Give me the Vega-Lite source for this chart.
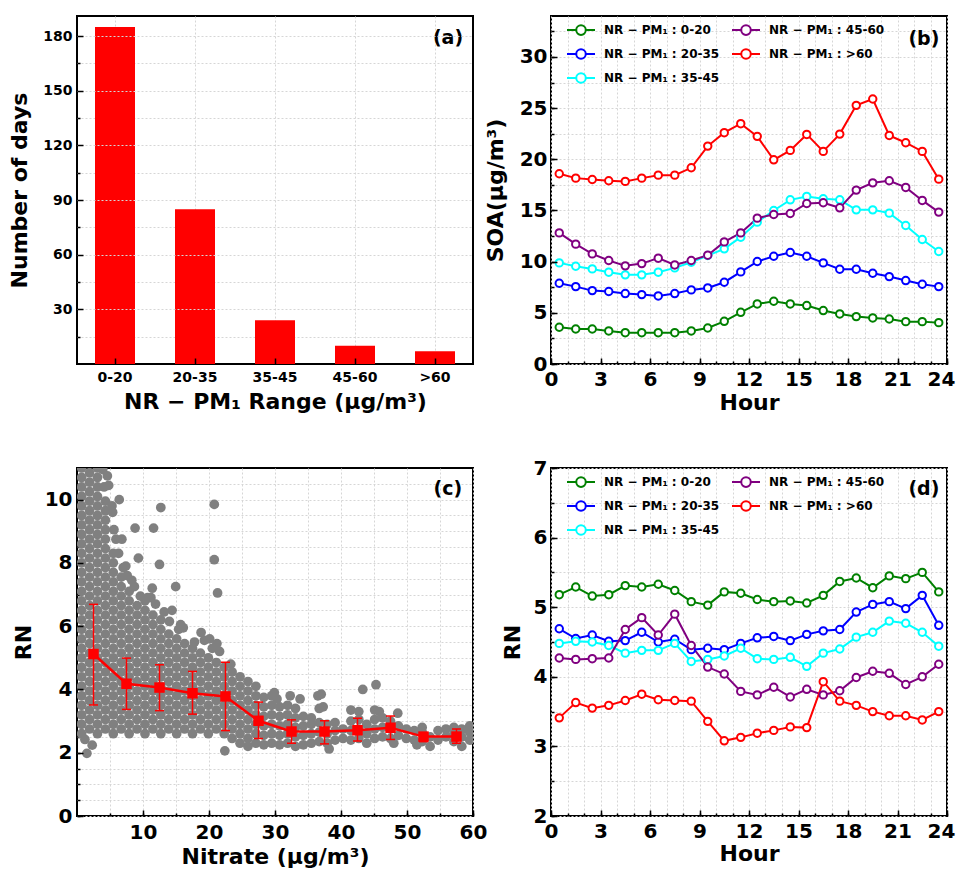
{
  "$schema": "https://vega.github.io/schema/vega-lite/v6.json",
  "padding": {"left": 7, "top": 14, "right": 5, "bottom": 0},
  "columns": 2,
  "spacing": {"row": 104, "column": 78},
  "bounds": "flush",
  "resolve": {"scale": {"color": "independent"}, "legend": {"color": "independent"}},
  "config": {
    "font": "DejaVu Sans",
    "view": {"stroke": "black", "strokeWidth": 2},
    "axis": {"domain": false, "labelFont": "DejaVu Sans", "labelFontWeight": "bold", "labelFontSize": 20, "labelColor": "black", "titleFont": "DejaVu Sans", "titleFontWeight": "bold", "titleFontSize": 22, "titleColor": "black", "tickColor": "black", "tickWidth": 1.5, "gridColor": "#d6d6d6", "gridDash": [2, 2], "gridWidth": 1, "labelFlush": false, "labelOverlap": false, "titlePadding": 8, "labelPadding": 5},
    "legend": {"orient": "none", "legendX": 15, "legendY": -1, "columns": 2, "columnPadding": 8, "rowPadding": -2.5, "labelFont": "DejaVu Sans", "labelFontSize": 12, "labelFontWeight": "bold", "labelColor": "black", "symbolType": "M-1,0L-0.34,0M0.34,0L1,0M-0.34,0A0.34,0.34,0,1,0,0.34,0A0.34,0.34,0,1,0,-0.34,0Z", "symbolSize": 784, "symbolStrokeWidth": 2, "symbolFillColor": "white", "labelOffset": 8}
  },
  "datasets": {
    "soa": [
      {"h": 0.5, "0-20": 3.59, "20-35": 7.89, "35-45": 9.88, "45-60": 12.81, ">60": 18.59},
      {"h": 1.5, "0-20": 3.42, "20-35": 7.56, "35-45": 9.55, "45-60": 11.71, ">60": 18.16},
      {"h": 2.5, "0-20": 3.42, "20-35": 7.17, "35-45": 9.29, "45-60": 10.76, ">60": 18.03},
      {"h": 3.5, "0-20": 3.23, "20-35": 7.08, "35-45": 8.97, "45-60": 10.11, ">60": 17.9},
      {"h": 4.5, "0-20": 3.06, "20-35": 6.88, "35-45": 8.71, "45-60": 9.59, ">60": 17.84},
      {"h": 5.5, "0-20": 3.06, "20-35": 6.78, "35-45": 8.71, "45-60": 9.81, ">60": 18.16},
      {"h": 6.5, "0-20": 3.06, "20-35": 6.65, "35-45": 8.97, "45-60": 10.34, ">60": 18.45},
      {"h": 7.5, "0-20": 3.06, "20-35": 6.88, "35-45": 9.39, "45-60": 9.68, ">60": 18.45},
      {"h": 8.5, "0-20": 3.23, "20-35": 7.24, "35-45": 9.94, "45-60": 10.11, ">60": 19.17},
      {"h": 9.5, "0-20": 3.52, "20-35": 7.43, "35-45": 10.6, "45-60": 10.63, ">60": 21.29},
      {"h": 10.5, "0-20": 4.17, "20-35": 7.99, "35-45": 11.25, "45-60": 11.93, ">60": 22.6},
      {"h": 11.5, "0-20": 5.05, "20-35": 9.0, "35-45": 12.39, "45-60": 12.81, ">60": 23.48},
      {"h": 12.5, "0-20": 5.87, "20-35": 10.01, "35-45": 13.86, "45-60": 14.25, ">60": 22.24},
      {"h": 13.5, "0-20": 6.13, "20-35": 10.53, "35-45": 15.0, "45-60": 14.61, ">60": 19.95},
      {"h": 14.5, "0-20": 5.87, "20-35": 10.89, "35-45": 16.04, "45-60": 14.7, ">60": 20.87},
      {"h": 15.5, "0-20": 5.71, "20-35": 10.53, "35-45": 16.37, "45-60": 15.68, ">60": 22.43},
      {"h": 16.5, "0-20": 5.22, "20-35": 9.88, "35-45": 16.14, "45-60": 15.75, ">60": 20.77},
      {"h": 17.5, "0-20": 4.89, "20-35": 9.26, "35-45": 16.04, "45-60": 15.26, ">60": 22.46},
      {"h": 18.5, "0-20": 4.63, "20-35": 9.26, "35-45": 15.06, "45-60": 16.99, ">60": 25.27},
      {"h": 19.5, "0-20": 4.5, "20-35": 8.87, "35-45": 15.06, "45-60": 17.7, ">60": 25.89},
      {"h": 20.5, "0-20": 4.4, "20-35": 8.54, "35-45": 14.74, "45-60": 17.9, ">60": 22.33},
      {"h": 21.5, "0-20": 4.14, "20-35": 8.15, "35-45": 13.53, "45-60": 17.25, ">60": 21.62},
      {"h": 22.5, "0-20": 4.14, "20-35": 7.79, "35-45": 12.16, "45-60": 15.98, ">60": 20.77},
      {"h": 23.5, "0-20": 4.04, "20-35": 7.56, "35-45": 10.99, "45-60": 14.84, ">60": 18.06}
    ],
    "rnd": [
      {"h": 0.5, "0-20": 5.18, "20-35": 4.69, "35-45": 4.48, "45-60": 4.27, ">60": 3.41},
      {"h": 1.5, "0-20": 5.29, "20-35": 4.55, "35-45": 4.51, "45-60": 4.25, ">60": 3.63},
      {"h": 2.5, "0-20": 5.16, "20-35": 4.6, "35-45": 4.5, "45-60": 4.26, ">60": 3.55},
      {"h": 3.5, "0-20": 5.18, "20-35": 4.51, "35-45": 4.45, "45-60": 4.27, ">60": 3.59},
      {"h": 4.5, "0-20": 5.31, "20-35": 4.52, "35-45": 4.34, "45-60": 4.68, ">60": 3.66},
      {"h": 5.5, "0-20": 5.29, "20-35": 4.64, "35-45": 4.38, "45-60": 4.85, ">60": 3.75},
      {"h": 6.5, "0-20": 5.33, "20-35": 4.5, "35-45": 4.38, "45-60": 4.6, ">60": 3.67},
      {"h": 7.5, "0-20": 5.24, "20-35": 4.54, "35-45": 4.48, "45-60": 4.9, ">60": 3.66},
      {"h": 8.5, "0-20": 5.08, "20-35": 4.39, "35-45": 4.22, "45-60": 4.45, ">60": 3.65},
      {"h": 9.5, "0-20": 5.03, "20-35": 4.41, "35-45": 4.25, "45-60": 4.14, ">60": 3.36},
      {"h": 10.5, "0-20": 5.22, "20-35": 4.39, "35-45": 4.3, "45-60": 4.04, ">60": 3.08},
      {"h": 11.5, "0-20": 5.2, "20-35": 4.48, "35-45": 4.41, "45-60": 3.79, ">60": 3.13},
      {"h": 12.5, "0-20": 5.11, "20-35": 4.56, "35-45": 4.26, "45-60": 3.74, ">60": 3.19},
      {"h": 13.5, "0-20": 5.08, "20-35": 4.58, "35-45": 4.25, "45-60": 3.85, ">60": 3.23},
      {"h": 14.5, "0-20": 5.09, "20-35": 4.52, "35-45": 4.28, "45-60": 3.71, ">60": 3.28},
      {"h": 15.5, "0-20": 5.06, "20-35": 4.61, "35-45": 4.15, "45-60": 3.82, ">60": 3.27},
      {"h": 16.5, "0-20": 5.17, "20-35": 4.66, "35-45": 4.34, "45-60": 3.74, ">60": 3.93},
      {"h": 17.5, "0-20": 5.37, "20-35": 4.68, "35-45": 4.4, "45-60": 3.8, ">60": 3.65},
      {"h": 18.5, "0-20": 5.42, "20-35": 4.93, "35-45": 4.57, "45-60": 3.99, ">60": 3.59},
      {"h": 19.5, "0-20": 5.28, "20-35": 5.04, "35-45": 4.64, "45-60": 4.08, ">60": 3.5},
      {"h": 20.5, "0-20": 5.45, "20-35": 5.08, "35-45": 4.8, "45-60": 4.05, ">60": 3.44},
      {"h": 21.5, "0-20": 5.41, "20-35": 4.98, "35-45": 4.77, "45-60": 3.89, ">60": 3.44},
      {"h": 22.5, "0-20": 5.5, "20-35": 5.17, "35-45": 4.64, "45-60": 4.0, ">60": 3.38},
      {"h": 23.5, "0-20": 5.22, "20-35": 4.74, "35-45": 4.44, "45-60": 4.18, ">60": 3.5}
    ],
    "rn": [
      {"n": 2.5, "m": 5.12, "lo": 3.51, "hi": 6.69},
      {"n": 7.5, "m": 4.18, "lo": 3.37, "hi": 4.99},
      {"n": 12.5, "m": 4.06, "lo": 3.33, "hi": 4.78},
      {"n": 17.5, "m": 3.88, "lo": 3.22, "hi": 4.57},
      {"n": 22.5, "m": 3.78, "lo": 2.7, "hi": 4.86},
      {"n": 27.5, "m": 3.01, "lo": 2.45, "hi": 3.6},
      {"n": 32.5, "m": 2.67, "lo": 2.3, "hi": 3.04},
      {"n": 37.5, "m": 2.67, "lo": 2.28, "hi": 3.01},
      {"n": 42.5, "m": 2.71, "lo": 2.37, "hi": 3.09},
      {"n": 47.5, "m": 2.79, "lo": 2.42, "hi": 3.16},
      {"n": 52.5, "m": 2.51, "lo": 2.35, "hi": 2.63},
      {"n": 57.5, "m": 2.51, "lo": 2.3, "hi": 2.75}
    ],
    "sc": [
      {"n":0.7,"r":2.6},{"n":0.7,"r":2.9},{"n":0.7,"r":3.2},{"n":0.7,"r":3.5},{"n":0.7,"r":3.8},{"n":0.7,"r":4.1},{"n":0.7,"r":4.4},{"n":0.7,"r":4.7},{"n":0.7,"r":5.0},{"n":0.7,"r":5.3},{"n":0.7,"r":5.6},{"n":0.7,"r":5.9},{"n":0.7,"r":6.2},{"n":0.7,"r":6.5},{"n":0.7,"r":6.8},{"n":0.7,"r":7.1},{"n":0.7,"r":7.4},{"n":0.7,"r":7.7},{"n":0.7,"r":8.0},{"n":0.7,"r":8.3},{"n":0.7,"r":8.6},{"n":0.7,"r":8.9},{"n":0.7,"r":9.2},{"n":0.7,"r":9.5},{"n":0.7,"r":9.8},{"n":0.7,"r":10.1},{"n":0.7,"r":10.4},{"n":0.7,"r":10.7},{"n":0.7,"r":11.0},
      {"n":1.9,"r":2.75},{"n":1.9,"r":3.05},{"n":1.9,"r":3.35},{"n":1.9,"r":3.65},{"n":1.9,"r":3.95},{"n":1.9,"r":4.25},{"n":1.9,"r":4.55},{"n":1.9,"r":4.85},{"n":1.9,"r":5.15},{"n":1.9,"r":5.45},{"n":1.9,"r":5.75},{"n":1.9,"r":6.05},{"n":1.9,"r":6.35},{"n":1.9,"r":6.65},{"n":1.9,"r":6.95},{"n":1.9,"r":7.25},{"n":1.9,"r":7.55},{"n":1.9,"r":7.85},{"n":1.9,"r":8.15},{"n":1.9,"r":8.45},{"n":1.9,"r":8.75},{"n":1.9,"r":9.05},{"n":1.9,"r":9.35},{"n":1.9,"r":9.65},{"n":1.9,"r":9.95},{"n":1.9,"r":10.25},{"n":1.9,"r":10.55},{"n":1.9,"r":10.85},
      {"n":1.5,"r":1.98},{"n":2.3,"r":2.24},{"n":1.2,"r":2.42},
      {"n":3.1,"r":2.6},{"n":3.1,"r":2.9},{"n":3.1,"r":3.2},{"n":3.1,"r":3.5},{"n":3.1,"r":3.8},{"n":3.1,"r":4.1},{"n":3.1,"r":4.4},{"n":3.1,"r":4.7},{"n":3.1,"r":5.0},{"n":3.1,"r":5.3},{"n":3.1,"r":5.6},{"n":3.1,"r":5.9},{"n":3.1,"r":6.2},{"n":3.1,"r":6.5},{"n":3.1,"r":6.8},{"n":3.1,"r":7.1},{"n":3.1,"r":7.4},{"n":3.1,"r":7.7},{"n":3.1,"r":8.0},{"n":3.1,"r":8.3},{"n":3.1,"r":8.6},{"n":3.1,"r":8.9},{"n":3.1,"r":9.2},{"n":3.1,"r":9.5},{"n":3.1,"r":9.8},{"n":3.1,"r":10.1},{"n":3.1,"r":10.4},{"n":3.1,"r":10.7},{"n":3.1,"r":11.0},
      {"n":4.3,"r":2.75},{"n":4.3,"r":3.05},{"n":4.3,"r":3.35},{"n":4.3,"r":3.65},{"n":4.3,"r":3.95},{"n":4.3,"r":4.25},{"n":4.3,"r":4.55},{"n":4.3,"r":4.85},{"n":4.3,"r":5.15},{"n":4.3,"r":5.45},{"n":4.3,"r":5.75},{"n":4.3,"r":6.05},{"n":4.3,"r":6.35},{"n":4.3,"r":6.65},{"n":4.3,"r":6.95},{"n":4.3,"r":7.25},{"n":4.3,"r":7.55},{"n":4.3,"r":7.85},{"n":4.3,"r":8.15},{"n":4.3,"r":8.45},{"n":4.3,"r":8.75},{"n":4.3,"r":9.05},{"n":4.3,"r":9.35},{"n":4.3,"r":9.65},{"n":4.3,"r":9.95},
      {"n":4.1,"r":10.4},{"n":4.6,"r":10.75},{"n":3.9,"r":10.95},{"n":4.8,"r":10.45},{"n":5.4,"r":9.6},
      {"n":5.5,"r":2.6},{"n":5.5,"r":2.9},{"n":5.5,"r":3.2},{"n":5.5,"r":3.5},{"n":5.5,"r":3.8},{"n":5.5,"r":4.1},{"n":5.5,"r":4.4},{"n":5.5,"r":4.7},{"n":5.5,"r":5.0},{"n":5.5,"r":5.3},{"n":5.5,"r":5.6},{"n":5.5,"r":5.9},{"n":5.5,"r":6.2},{"n":5.5,"r":6.5},{"n":5.5,"r":6.8},{"n":5.5,"r":7.1},{"n":5.5,"r":7.4},{"n":5.5,"r":7.7},{"n":5.5,"r":8.0},{"n":5.5,"r":8.3},
      {"n":5.3,"r":9.8},{"n":5.6,"r":9.05},{"n":5.9,"r":8.75},
      {"n":6.7,"r":2.75},{"n":6.7,"r":3.05},{"n":6.7,"r":3.35},{"n":6.7,"r":3.65},{"n":6.7,"r":3.95},{"n":6.7,"r":4.25},{"n":6.7,"r":4.55},{"n":6.7,"r":4.85},{"n":6.7,"r":5.15},{"n":6.7,"r":5.45},{"n":6.7,"r":5.75},{"n":6.7,"r":6.05},{"n":6.7,"r":6.35},{"n":6.7,"r":6.65},{"n":6.7,"r":6.95},{"n":6.7,"r":7.25},{"n":6.7,"r":7.55},
      {"n":6.4,"r":10.0},{"n":6.8,"r":8.75},{"n":6.3,"r":8.3},{"n":7.0,"r":7.85},
      {"n":7.9,"r":2.6},{"n":7.9,"r":2.9},{"n":7.9,"r":3.2},{"n":7.9,"r":3.5},{"n":7.9,"r":3.8},{"n":7.9,"r":4.1},{"n":7.9,"r":4.4},{"n":7.9,"r":4.7},{"n":7.9,"r":5.0},{"n":7.9,"r":5.3},{"n":7.9,"r":5.6},{"n":7.9,"r":5.9},{"n":7.9,"r":6.2},{"n":7.9,"r":6.5},{"n":7.9,"r":6.8},{"n":7.9,"r":7.1},
      {"n":7.6,"r":7.6},{"n":8.3,"r":7.45},{"n":8.7,"r":7.25},{"n":7.4,"r":7.9},
      {"n":9.1,"r":2.75},{"n":9.1,"r":3.05},{"n":9.1,"r":3.35},{"n":9.1,"r":3.65},{"n":9.1,"r":3.95},{"n":9.1,"r":4.25},{"n":9.1,"r":4.55},{"n":9.1,"r":4.85},{"n":9.1,"r":5.15},{"n":9.1,"r":5.45},{"n":9.1,"r":5.75},{"n":9.1,"r":6.05},{"n":9.1,"r":6.35},{"n":9.1,"r":6.65},
      {"n":9.3,"r":8.15},{"n":8.8,"r":9.1},{"n":9.6,"r":6.95},
      {"n":10.3,"r":2.6},{"n":10.3,"r":2.9},{"n":10.3,"r":3.2},{"n":10.3,"r":3.5},{"n":10.3,"r":3.8},{"n":10.3,"r":4.1},{"n":10.3,"r":4.4},{"n":10.3,"r":4.7},{"n":10.3,"r":5.0},{"n":10.3,"r":5.3},{"n":10.3,"r":5.6},{"n":10.3,"r":5.9},{"n":10.3,"r":6.2},{"n":10.3,"r":6.5},{"n":10.3,"r":6.8},
      {"n":10.7,"r":6.9},
      {"n":11.5,"r":2.75},{"n":11.5,"r":3.05},{"n":11.5,"r":3.35},{"n":11.5,"r":3.65},{"n":11.5,"r":3.95},{"n":11.5,"r":4.25},{"n":11.5,"r":4.55},{"n":11.5,"r":4.85},{"n":11.5,"r":5.15},{"n":11.5,"r":5.45},{"n":11.5,"r":5.75},{"n":11.5,"r":6.05},{"n":11.5,"r":6.35},
      {"n":11.6,"r":9.1},{"n":11.4,"r":7.2},{"n":11.9,"r":6.7},{"n":11.2,"r":6.9},
      {"n":12.7,"r":2.6},{"n":12.7,"r":2.9},{"n":12.7,"r":3.2},{"n":12.7,"r":3.5},{"n":12.7,"r":3.8},{"n":12.7,"r":4.1},{"n":12.7,"r":4.4},{"n":12.7,"r":4.7},{"n":12.7,"r":5.0},{"n":12.7,"r":5.3},{"n":12.7,"r":5.6},{"n":12.7,"r":5.9},{"n":12.7,"r":6.2},
      {"n":12.5,"r":7.95},{"n":12.7,"r":9.75},{"n":13.2,"r":6.45},
      {"n":13.9,"r":2.75},{"n":13.9,"r":3.05},{"n":13.9,"r":3.35},{"n":13.9,"r":3.65},{"n":13.9,"r":3.95},{"n":13.9,"r":4.25},{"n":13.9,"r":4.55},{"n":13.9,"r":4.85},{"n":13.9,"r":5.15},{"n":13.9,"r":5.45},{"n":13.9,"r":5.75},
      {"n":14.4,"r":6.5},{"n":14.0,"r":6.15},
      {"n":15.1,"r":2.6},{"n":15.1,"r":2.9},{"n":15.1,"r":3.2},{"n":15.1,"r":3.5},{"n":15.1,"r":3.8},{"n":15.1,"r":4.1},{"n":15.1,"r":4.4},{"n":15.1,"r":4.7},{"n":15.1,"r":5.0},{"n":15.1,"r":5.3},{"n":15.1,"r":5.6},
      {"n":14.95,"r":7.25},{"n":15.7,"r":6.05},{"n":15.4,"r":5.9},
      {"n":16.3,"r":2.75},{"n":16.3,"r":3.05},{"n":16.3,"r":3.35},{"n":16.3,"r":3.65},{"n":16.3,"r":3.95},{"n":16.3,"r":4.25},{"n":16.3,"r":4.55},{"n":16.3,"r":4.85},{"n":16.3,"r":5.15},{"n":16.3,"r":5.45},
      {"n":16.1,"r":5.95},
      {"n":17.5,"r":2.6},{"n":17.5,"r":2.9},{"n":17.5,"r":3.2},{"n":17.5,"r":3.5},{"n":17.5,"r":3.8},{"n":17.5,"r":4.1},{"n":17.5,"r":4.4},{"n":17.5,"r":4.7},{"n":17.5,"r":5.0},{"n":17.5,"r":5.3},
      {"n":17.8,"r":5.5},
      {"n":18.7,"r":2.75},{"n":18.7,"r":3.05},{"n":18.7,"r":3.35},{"n":18.7,"r":3.65},{"n":18.7,"r":3.95},{"n":18.7,"r":4.25},{"n":18.7,"r":4.55},{"n":18.7,"r":4.85},{"n":18.7,"r":5.15},
      {"n":18.8,"r":5.8},{"n":19.3,"r":5.55},
      {"n":19.9,"r":2.6},{"n":19.9,"r":2.9},{"n":19.9,"r":3.2},{"n":19.9,"r":3.5},{"n":19.9,"r":3.8},{"n":19.9,"r":4.1},{"n":19.9,"r":4.4},{"n":19.9,"r":4.7},{"n":19.9,"r":5.0},
      {"n":20.1,"r":5.6},{"n":20.5,"r":5.3},
      {"n":21.1,"r":2.75},{"n":21.1,"r":3.05},{"n":21.1,"r":3.35},{"n":21.1,"r":3.65},{"n":21.1,"r":3.95},{"n":21.1,"r":4.25},{"n":21.1,"r":4.55},{"n":21.1,"r":4.85},
      {"n":20.8,"r":9.85},{"n":20.8,"r":8.1},{"n":21.3,"r":7.05},{"n":21.2,"r":5.45},{"n":21.6,"r":5.2},
      {"n":22.3,"r":2.6},{"n":22.3,"r":2.9},{"n":22.3,"r":3.2},{"n":22.3,"r":3.5},{"n":22.3,"r":3.8},{"n":22.3,"r":4.1},{"n":22.3,"r":4.4},{"n":22.3,"r":4.7},
      {"n":22.4,"r":2.06},
      {"n":23.5,"r":2.45},{"n":23.5,"r":2.75},{"n":23.5,"r":3.05},{"n":23.5,"r":3.35},{"n":23.5,"r":3.65},{"n":23.5,"r":3.95},{"n":23.5,"r":4.25},{"n":23.5,"r":4.55},
      {"n":23.3,"r":4.8},
      {"n":24.7,"r":2.3},{"n":24.7,"r":2.6},{"n":24.7,"r":2.9},{"n":24.7,"r":3.2},{"n":24.7,"r":3.5},{"n":24.7,"r":3.8},{"n":24.7,"r":4.1},{"n":24.7,"r":4.4},
      {"n":25.9,"r":2.2},{"n":25.9,"r":2.45},{"n":25.9,"r":2.75},{"n":25.9,"r":3.05},{"n":25.9,"r":3.35},{"n":25.9,"r":3.65},{"n":25.9,"r":3.95},{"n":25.9,"r":4.25},
      {"n":27.1,"r":2.3},{"n":27.1,"r":2.6},{"n":27.1,"r":2.9},{"n":27.1,"r":3.2},{"n":27.1,"r":3.5},{"n":27.1,"r":3.8},{"n":27.1,"r":4.1},
      {"n":28.3,"r":2.25},{"n":28.3,"r":2.55},{"n":28.3,"r":2.85},{"n":28.3,"r":3.15},{"n":28.3,"r":3.45},{"n":28.3,"r":3.75},
      {"n":29.5,"r":2.3},{"n":29.5,"r":2.6},{"n":29.5,"r":2.9},{"n":29.5,"r":3.2},{"n":29.5,"r":3.5},{"n":29.5,"r":3.8},
      {"n":29.9,"r":3.9},
      {"n":30.7,"r":2.25},{"n":30.7,"r":2.55},{"n":30.7,"r":2.85},{"n":30.7,"r":3.15},{"n":30.7,"r":3.45},{"n":30.3,"r":3.7},
      {"n":31.9,"r":2.3},{"n":31.9,"r":2.6},{"n":31.9,"r":2.9},{"n":31.9,"r":3.2},{"n":31.9,"r":3.5},{"n":32.3,"r":3.8},
      {"n":33.1,"r":2.2},{"n":33.1,"r":2.5},{"n":33.1,"r":2.8},{"n":33.1,"r":3.1},{"n":33.1,"r":3.4},{"n":33.8,"r":3.7},
      {"n":34.3,"r":2.25},{"n":34.3,"r":2.55},{"n":34.3,"r":2.85},{"n":34.3,"r":3.15},
      {"n":35.5,"r":2.3},{"n":35.5,"r":2.6},{"n":35.5,"r":2.9},{"n":35.5,"r":3.1},
      {"n":36.7,"r":2.35},{"n":36.7,"r":2.65},{"n":36.7,"r":2.95},{"n":36.7,"r":3.4},{"n":36.5,"r":3.8},{"n":37.0,"r":3.85},{"n":37.3,"r":3.45},
      {"n":37.9,"r":2.3},{"n":37.9,"r":2.6},{"n":37.9,"r":2.9},{"n":38.2,"r":2.12},
      {"n":39.1,"r":2.4},{"n":39.1,"r":2.7},{"n":39.1,"r":2.95},
      {"n":40.3,"r":2.45},{"n":40.3,"r":2.75},
      {"n":41.5,"r":2.4},{"n":41.5,"r":2.7},{"n":41.5,"r":3.0},{"n":41.5,"r":3.35},
      {"n":42.7,"r":2.45},{"n":42.7,"r":2.75},{"n":42.7,"r":3.05},{"n":42.7,"r":3.3},
      {"n":43.9,"r":2.3},{"n":43.9,"r":2.6},{"n":43.9,"r":2.9},{"n":43.3,"r":4.0},
      {"n":45.1,"r":2.45},{"n":45.1,"r":2.75},{"n":45.1,"r":3.05},{"n":45.1,"r":3.35},{"n":45.3,"r":4.15},{"n":45.8,"r":3.3},
      {"n":46.3,"r":2.5},{"n":46.3,"r":2.8},{"n":46.3,"r":3.1},
      {"n":47.5,"r":2.45},{"n":47.5,"r":2.75},{"n":47.5,"r":3.0},{"n":48.0,"r":2.3},{"n":48.6,"r":3.25},
      {"n":48.7,"r":2.55},{"n":48.7,"r":2.85},
      {"n":49.9,"r":2.45},{"n":49.9,"r":2.75},
      {"n":51.1,"r":2.4},{"n":51.1,"r":2.7},{"n":51.5,"r":2.25},
      {"n":52.3,"r":2.35},{"n":52.3,"r":2.65},{"n":52.3,"r":2.8},
      {"n":53.5,"r":2.2},{"n":53.5,"r":2.5},
      {"n":54.7,"r":2.4},{"n":54.7,"r":2.7},
      {"n":55.9,"r":2.5},{"n":55.9,"r":2.75},
      {"n":57.1,"r":2.35},{"n":57.1,"r":2.6},{"n":57.1,"r":2.8},
      {"n":58.3,"r":2.2},{"n":58.3,"r":2.5},{"n":58.3,"r":2.75},
      {"n":59.5,"r":2.4},{"n":59.5,"r":2.65},{"n":59.5,"r":2.85}
    ]
  },
  "concat": [
    {
      "width": 396, "height": 348,
      "data": {"values": [{"c": "0-20", "d": 185}, {"c": "20-35", "d": 85}, {"c": "35-45", "d": 24}, {"c": "45-60", "d": 10}, {"c": ">60", "d": 7}]},
      "resolve": {"axis": {"x": "independent", "y": "independent"}},
      "layer": [
        {
          "mark": {"type": "bar", "color": "#ff0000"},
          "encoding": {
            "x": {"field": "c", "type": "nominal", "sort": null, "scale": {"paddingInner": 0.5, "paddingOuter": 0.225},
              "axis": {"orient": "bottom", "title": null, "labels": false, "ticks": false, "bandPosition": 0.5, "grid": true}},
            "y": {"field": "d", "type": "quantitative", "scale": {"domain": [0, 191], "nice": false},
              "axis": {"orient": "left", "title": null, "labels": false, "values": [15, 45, 75, 105, 135, 165], "grid": true, "tickSize": 3, "offset": -3}}
          }
        },
        {
          "data": {"values": [{"t": "(a)"}]},
          "mark": {"type": "text", "fontSize": 19, "fontWeight": "bold", "align": "center", "baseline": "middle", "dx": 13, "color": "black"},
          "encoding": {
            "x": {"datum": ">60", "type": "nominal", "axis": {"orient": "bottom", "title": "NR − PM₁ Range (μg/m³)", "labelFontSize": 14, "labelAngle": 0, "tickSize": 6, "offset": -6, "labelPadding": 6, "bandPosition": 0.5, "grid": false, "zindex": 1, "titlePadding": 7}},
            "y": {"datum": 179, "type": "quantitative", "axis": {"orient": "left", "title": "Number of days", "values": [30, 60, 90, 120, 150, 180], "labelFontSize": 14, "grid": true, "tickSize": 6, "offset": -6, "labelPadding": 5, "zindex": 1, "titlePadding": 11}},
            "text": {"field": "t"}
          }
        }
      ]
    },
    {
      "width": 396, "height": 348,
      "data": {"name": "soa"},
      "transform": [{"fold": ["0-20", "20-35", "35-45", "45-60", ">60"], "as": ["g", "v"]}],
      "resolve": {"axis": {"x": "independent", "y": "independent"}},
      "layer": [
        {
          "mark": {"type": "line", "strokeWidth": 2},
          "encoding": {
            "x": {"field": "h", "type": "quantitative", "scale": {"domain": [0, 24], "nice": false},
              "axis": {"orient": "bottom", "title": null, "labels": false, "values": [0,1,2,3,4,5,6,7,8,9,10,11,12,13,14,15,16,17,18,19,20,21,22,23,24], "grid": true, "tickSize": 3, "offset": -3}},
            "y": {"field": "v", "type": "quantitative", "scale": {"domain": [0, 34], "nice": false},
              "axis": {"orient": "left", "title": null, "labels": false, "values": [0,2.5,5,7.5,10,12.5,15,17.5,20,22.5,25,27.5,30,32.5], "grid": true, "tickSize": 3, "offset": -3}},
            "color": {"field": "g", "type": "nominal", "scale": {"domain": ["0-20", "20-35", "35-45", "45-60", ">60"], "range": ["#008000", "#0000ff", "#00ffff", "#800080", "#ff0000"]},
              "legend": {"title": null, "labelExpr": "'NR − PM₁ : ' + datum.label"}}
          }
        },
        {
          "mark": {"type": "point", "shape": "circle", "filled": false, "fill": "white", "size": 55, "strokeWidth": 2, "opacity": 1},
          "encoding": {
            "x": {"field": "h", "type": "quantitative", "axis": {"orient": "bottom", "title": "Hour", "values": [0,3,6,9,12,15,18,21,24], "grid": false, "tickSize": 6, "offset": -6, "labelPadding": 5, "titlePadding": 3, "zindex": 1, "labelOffset": {"condition": {"test": "datum.value == 24", "value": -6}, "value": 0}}},
            "y": {"field": "v", "type": "quantitative", "axis": {"orient": "left", "title": "SOA(μg/m³)", "values": [0,5,10,15,20,25,30], "grid": false, "tickSize": 6, "offset": -6, "labelPadding": 4, "titlePadding": 12, "zindex": 1}},
            "color": {"field": "g", "type": "nominal"}
          }
        },
        {
          "data": {"values": [{"t": "(b)"}]},
          "mark": {"type": "text", "fontSize": 19, "fontWeight": "bold", "align": "center", "baseline": "middle", "color": "black"},
          "encoding": {"x": {"datum": 22.6, "type": "quantitative", "axis": null}, "y": {"datum": 31.8, "type": "quantitative", "axis": null}, "text": {"field": "t"}}
        }
      ]
    },
    {
      "width": 396, "height": 348,
      "resolve": {"axis": {"x": "independent", "y": "independent"}},
      "layer": [
        {
          "data": {"name": "sc"},
          "mark": {"type": "circle", "color": "#808080", "size": 95, "opacity": 1, "clip": true},
          "encoding": {
            "x": {"field": "n", "type": "quantitative", "scale": {"domain": [0, 60], "nice": false},
              "axis": {"orient": "bottom", "title": null, "labels": false, "values": [5,10,15,20,25,30,35,40,45,50,55,60], "grid": true, "tickSize": 3, "offset": -3}},
            "y": {"field": "r", "type": "quantitative", "scale": {"domain": [0, 11], "nice": false},
              "axis": {"orient": "left", "title": null, "labels": false, "values": [0,0.5,1,1.5,2,2.5,3,3.5,4,4.5,5,5.5,6,6.5,7,7.5,8,8.5,9,9.5,10,10.5], "grid": true, "tickSize": 3, "offset": -3}}
          }
        },
        {
          "mark": {"type": "rule", "color": "#ff0000", "strokeWidth": 2, "strokeDash": [8, 5]},
          "encoding": {"y": {"datum": 2.8, "type": "quantitative", "axis": null}}
        },
        {
          "data": {"name": "rn"},
          "mark": {"type": "rule", "color": "#ff0000", "strokeWidth": 1.5},
          "encoding": {"x": {"field": "n", "type": "quantitative", "axis": null}, "y": {"field": "lo", "type": "quantitative", "axis": null}, "y2": {"field": "hi"}}
        },
        {
          "data": {"name": "rn"},
          "mark": {"type": "tick", "orient": "horizontal", "color": "#ff0000", "size": 9, "thickness": 1.5, "opacity": 1},
          "encoding": {"x": {"field": "n", "type": "quantitative", "axis": null}, "y": {"field": "lo", "type": "quantitative", "axis": null}}
        },
        {
          "data": {"name": "rn"},
          "mark": {"type": "tick", "orient": "horizontal", "color": "#ff0000", "size": 9, "thickness": 1.5, "opacity": 1},
          "encoding": {"x": {"field": "n", "type": "quantitative", "axis": null}, "y": {"field": "hi", "type": "quantitative", "axis": null}}
        },
        {
          "data": {"name": "rn"},
          "mark": {"type": "line", "color": "#ff0000", "strokeWidth": 2.5},
          "encoding": {"x": {"field": "n", "type": "quantitative", "axis": null}, "y": {"field": "m", "type": "quantitative", "axis": null}}
        },
        {
          "data": {"name": "rn"},
          "mark": {"type": "point", "shape": "square", "filled": true, "color": "#ff0000", "size": 110, "opacity": 1},
          "encoding": {"x": {"field": "n", "type": "quantitative", "axis": null}, "y": {"field": "m", "type": "quantitative", "axis": null}}
        },
        {
          "data": {"values": [{"t": "(c)"}]},
          "mark": {"type": "text", "fontSize": 19, "fontWeight": "bold", "align": "center", "baseline": "middle", "color": "black"},
          "encoding": {
            "x": {"datum": 56.2, "type": "quantitative", "axis": {"orient": "bottom", "title": "Nitrate (μg/m³)", "values": [10,20,30,40,50,60], "grid": false, "tickSize": 6, "offset": -6, "labelPadding": 6, "titlePadding": 4, "zindex": 1}},
            "y": {"datum": 10.35, "type": "quantitative", "axis": {"orient": "left", "title": "RN", "values": [0,2,4,6,8,10], "grid": false, "tickSize": 6, "offset": -6, "labelPadding": 5, "titlePadding": 9, "zindex": 1}},
            "text": {"field": "t"}
          }
        }
      ]
    },
    {
      "width": 396, "height": 348,
      "data": {"name": "rnd"},
      "transform": [{"fold": ["0-20", "20-35", "35-45", "45-60", ">60"], "as": ["g", "v"]}],
      "resolve": {"axis": {"x": "independent", "y": "independent"}},
      "layer": [
        {
          "mark": {"type": "line", "strokeWidth": 2},
          "encoding": {
            "x": {"field": "h", "type": "quantitative", "scale": {"domain": [0, 24], "nice": false},
              "axis": {"orient": "bottom", "title": null, "labels": false, "values": [0,1,2,3,4,5,6,7,8,9,10,11,12,13,14,15,16,17,18,19,20,21,22,23,24], "grid": true, "tickSize": 3, "offset": -3}},
            "y": {"field": "v", "type": "quantitative", "scale": {"domain": [2, 7], "nice": false},
              "axis": {"orient": "left", "title": null, "labels": false, "values": [2,2.5,3,3.5,4,4.5,5,5.5,6,6.5,7], "grid": true, "tickSize": 3, "offset": -3}},
            "color": {"field": "g", "type": "nominal", "scale": {"domain": ["0-20", "20-35", "35-45", "45-60", ">60"], "range": ["#008000", "#0000ff", "#00ffff", "#800080", "#ff0000"]},
              "legend": {"title": null, "labelExpr": "'NR − PM₁ : ' + datum.label"}}
          }
        },
        {
          "mark": {"type": "point", "shape": "circle", "filled": false, "fill": "white", "size": 55, "strokeWidth": 2, "opacity": 1},
          "encoding": {
            "x": {"field": "h", "type": "quantitative", "axis": {"orient": "bottom", "title": "Hour", "values": [0,3,6,9,12,15,18,21,24], "grid": false, "tickSize": 6, "offset": -6, "labelPadding": 5, "titlePadding": 2, "zindex": 1, "labelOffset": {"condition": {"test": "datum.value == 24", "value": -6}, "value": 0}}},
            "y": {"field": "v", "type": "quantitative", "axis": {"orient": "left", "title": "RN", "values": [2,3,4,5,6,7], "grid": false, "tickSize": 6, "offset": -6, "labelPadding": 4, "titlePadding": 9, "zindex": 1}},
            "color": {"field": "g", "type": "nominal"}
          }
        },
        {
          "data": {"values": [{"t": "(d)"}]},
          "mark": {"type": "text", "fontSize": 19, "fontWeight": "bold", "align": "center", "baseline": "middle", "color": "black"},
          "encoding": {"x": {"datum": 22.6, "type": "quantitative", "axis": null}, "y": {"datum": 6.7, "type": "quantitative", "axis": null}, "text": {"field": "t"}}
        }
      ]
    }
  ]
}
